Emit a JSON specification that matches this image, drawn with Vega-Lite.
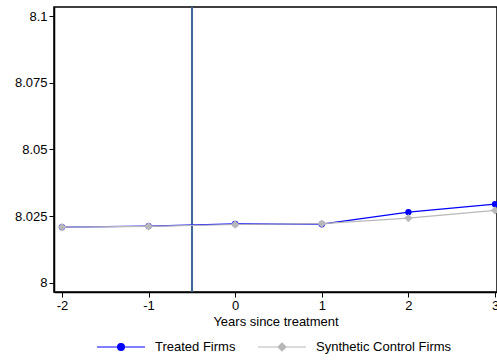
{
  "$schema": "https://vega.github.io/schema/vega-lite/v6.json",
  "autosize": {"type": "none"},
  "padding": {"left": 54, "top": 7, "right": 0, "bottom": 68},
  "width": 443,
  "height": 285,
  "background": "white",
  "config": {
    "font": "Liberation Sans",
    "view": {"stroke": "black", "strokeWidth": 1.5},
    "axis": {"domainColor": "black", "domainWidth": 1.5, "tickColor": "black", "tickSize": 5, "labelFontSize": 13, "labelColor": "black", "grid": false, "titleFontWeight": "normal", "titleFontSize": 13, "titleColor": "black"}
  },
  "data": {
    "values": [
      {"year": -2, "series": "Treated Firms", "value": 8.0209},
      {"year": -1, "series": "Treated Firms", "value": 8.0213},
      {"year": 0, "series": "Treated Firms", "value": 8.0221},
      {"year": 1, "series": "Treated Firms", "value": 8.0220},
      {"year": 2, "series": "Treated Firms", "value": 8.0265},
      {"year": 3, "series": "Treated Firms", "value": 8.0295},
      {"year": -2, "series": "Synthetic Control Firms", "value": 8.0209},
      {"year": -1, "series": "Synthetic Control Firms", "value": 8.0212},
      {"year": 0, "series": "Synthetic Control Firms", "value": 8.0219},
      {"year": 1, "series": "Synthetic Control Firms", "value": 8.0222},
      {"year": 2, "series": "Synthetic Control Firms", "value": 8.0243},
      {"year": 3, "series": "Synthetic Control Firms", "value": 8.0272}
    ]
  },
  "layer": [
    {
      "mark": {"type": "rule", "color": "#3f6a98", "strokeWidth": 1.2},
      "encoding": {
        "x": {"datum": -0.5, "type": "quantitative",
          "scale": {"domain": [-2.092, 3.023], "nice": false, "zero": false},
          "axis": {"values": [-2, -1, 0, 1, 2, 3], "labelExpr": "toString(datum.value)", "title": "Years since treatment", "labelPadding": 2, "titlePadding": 3}}
      }
    },
    {
      "encoding": {
        "x": {"field": "year", "type": "quantitative"},
        "y": {"field": "value", "type": "quantitative",
          "scale": {"domain": [7.9966, 8.1034], "nice": false, "zero": false},
          "axis": {"values": [8, 8.025, 8.05, 8.075, 8.1], "format": ".3~f", "title": null, "labelPadding": 2}},
        "color": {"field": "series", "type": "nominal",
          "scale": {"domain": ["Treated Firms", "Synthetic Control Firms"], "range": ["#0000ff", "#b8b8b8"]},
          "legend": {"title": null, "orient": "none", "legendX": 56, "legendY": 329, "direction": "horizontal", "labelFontSize": 13, "labelColor": "black", "symbolSize": 400, "symbolStrokeWidth": 1.2, "columnPadding": 19, "labelOffset": 23,
            "symbolType": "M-2.4,0H2.4M0.34,0A0.34,0.34,0,1,1,-0.34,0A0.34,0.34,0,1,1,0.34,0Z",
            "encode": {"symbols": {"update": {
              "stroke": {"scale": "color", "field": "value"},
              "fill": {"scale": "color", "field": "value"},
              "shape": {"signal": "datum.value === 'Treated Firms' ? 'M-2.4,0H2.4M0.34,0A0.34,0.34,0,1,1,-0.34,0A0.34,0.34,0,1,1,0.34,0Z' : 'M-2.4,0H2.4M0,-0.4L0.4,0L0,0.4L-0.4,0Z'"}
            }}}}}
      },
      "layer": [
        {
          "mark": {"type": "line", "strokeWidth": 1.2},
          "encoding": {"order": {"field": "year"}}
        },
        {
          "transform": [{"filter": "datum.series === 'Treated Firms'"}],
          "mark": {"type": "point", "filled": true, "opacity": 1, "size": 40, "shape": "circle"}
        },
        {
          "transform": [{"filter": "datum.series === 'Synthetic Control Firms'"}],
          "mark": {"type": "point", "filled": true, "opacity": 1, "size": 70, "shape": "diamond"}
        }
      ]
    }
  ]
}
